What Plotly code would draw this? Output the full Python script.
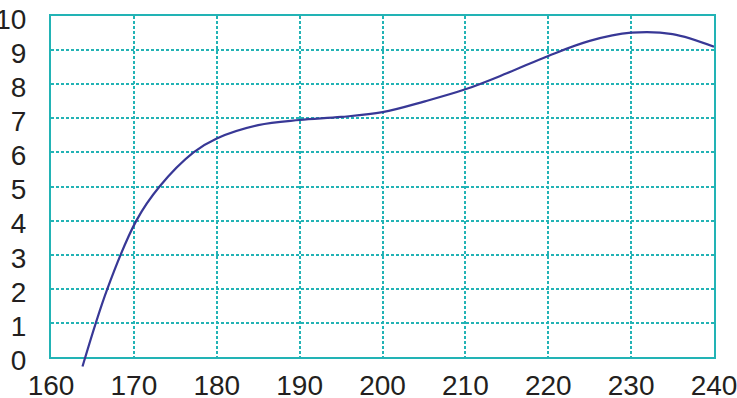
import plotly.graph_objects as go

x_vals = [163.8, 166.8, 170.3, 173.1, 177.2, 180.0, 185.0, 190.0,
          195.0, 200.0, 205.0, 210.0, 215.0, 220.0, 225.0, 230.0, 235.0, 240.0]
y_vals = [-0.28, 2.00, 4.00, 5.00, 6.00, 6.41, 6.80, 6.95,
          7.04, 7.18, 7.49, 7.85, 8.32, 8.83, 9.27, 9.51, 9.47, 9.10]

x_ticks = [160, 170, 180, 190, 200, 210, 220, 230, 240]
y_ticks = list(range(0, 11))

teal = "#22b3b5"
curve_color = "#383896"

H, T, B_OUTER = 398, 16, 28          # figure height, top margin, bottom margin
PLOT_BOTTOM = 357                      # pixel row of y = 0
y1_frac = (H - B_OUTER - PLOT_BOTTOM) / (H - T - B_OUTER)
px_per_unit = (PLOT_BOTTOM - T) / 10.0
y2_low = -(H - B_OUTER - PLOT_BOTTOM) / px_per_unit

fig = go.Figure()
# anchor trace for the main (gridded) axes, drawn invisibly
fig.add_trace(go.Scatter(
    x=x_vals, y=y_vals, mode="lines", xaxis="x", yaxis="y", opacity=0,
    line=dict(color=curve_color, width=1), hoverinfo="skip",
))
# visible curve on helper axes whose plotting area reaches a bit below y = 0
fig.add_trace(go.Scatter(
    x=x_vals, y=y_vals, mode="lines", xaxis="x2", yaxis="y2",
    line=dict(color=curve_color, width=2.2, shape="spline", smoothing=1.0),
    hoverinfo="skip",
))

font = dict(family="Liberation Sans, Arial, sans-serif", size=28, color="#231f20")

fig.update_layout(
    width=737, height=H,
    margin=dict(l=51, r=23, t=T, b=B_OUTER),
    paper_bgcolor="white", plot_bgcolor="rgba(0,0,0,0)",
    showlegend=False,
    xaxis=dict(range=[160, 240], tickvals=x_ticks, ticktext=[str(v) for v in x_ticks],
               anchor="y", showline=True, linecolor=teal, linewidth=2, mirror=True,
               showgrid=True, gridcolor=teal, gridwidth=1.6, griddash="3px,2px",
               zeroline=False, ticks="", tickfont=font, ticklabelstandoff=2,
               ticklabeloverflow="allow", automargin=False),
    yaxis=dict(range=[0, 10], domain=[y1_frac, 1], tickvals=y_ticks,
               ticktext=[str(v) for v in y_ticks], anchor="x",
               showline=True, linecolor=teal, linewidth=2, mirror=True,
               showgrid=True, gridcolor=teal, gridwidth=1.6, griddash="3px,2px",
               zeroline=False, ticks="", tickfont=font, ticklabelstandoff=17,
               ticklabelshift=3, ticklabeloverflow="allow", automargin=False),
    xaxis2=dict(range=[160, 240], domain=[0, 1], anchor="y2",
                visible=False, showgrid=False, zeroline=False),
    yaxis2=dict(range=[y2_low, 10], domain=[0, 1], anchor="x2",
                visible=False, showgrid=False, zeroline=False),
)

fig.write_html("out.html", config={"displayModeBar": False},
               post_script="document.body.style.margin='0';document.body.style.overflow='hidden';")
